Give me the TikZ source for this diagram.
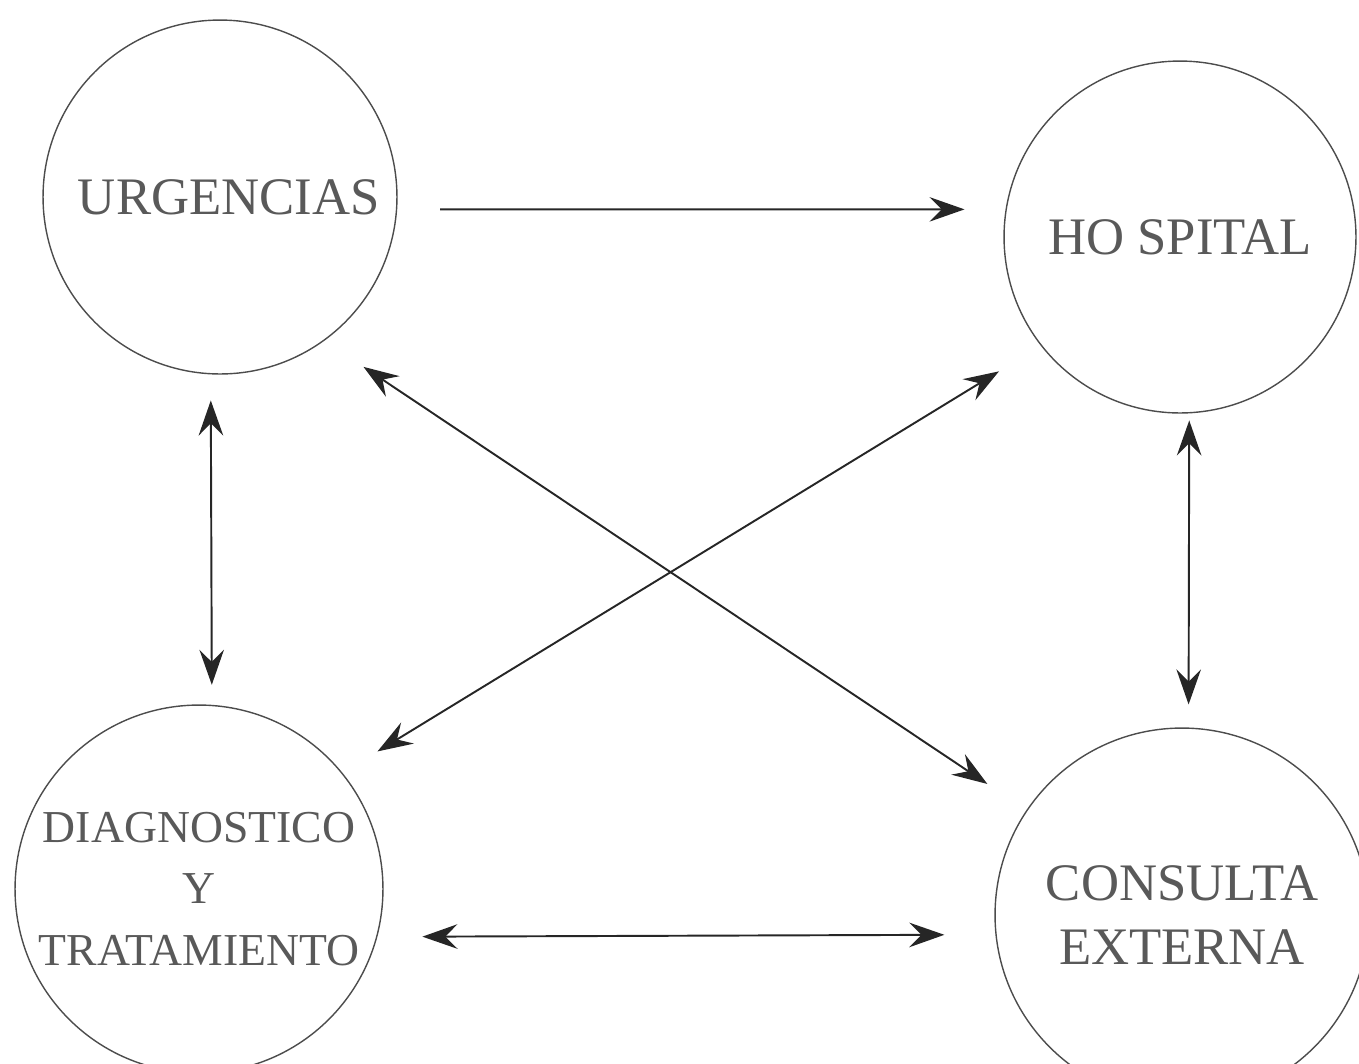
\documentclass[tikz,border=0pt]{standalone}
\usepackage{fontspec}
\setmainfont{Liberation Serif}
\usetikzlibrary{arrows.meta}

\tikzset{
  area/.style={circle, draw=black!70, line width=0.8pt, text=black!65, align=center, inner sep=0pt},
  link/.style={draw=black!85, line width=1.1pt, -{Stealth[length=20pt, width=14pt, inset=7pt]}},
  twolink/.style={draw=black!85, line width=1.1pt, {Stealth[length=20pt, width=14pt, inset=7pt]}-{Stealth[length=20pt, width=14pt, inset=7pt]}}
}

\begin{document}
\begin{tikzpicture}[x=0.02cm, y=-0.02cm]

% Page size
\useasboundingbox (0,0) rectangle (1359,1063);

% Define the four areas
\node[area, minimum size=7.08cm, font=\fontsize{30}{36}\selectfont] (urg) at (220,197) {\hspace{10pt}URGENCIAS};
\node[area, minimum size=7.04cm, font=\fontsize{30}{36}\selectfont] (hosp) at (1180,237) {HO SPITAL};
\node[area, minimum size=7.36cm, font=\fontsize{26}{35}\selectfont] (diag) at (199,889) {DIAGNOSTICO\\Y\\TRATAMIENTO};
\node[area, minimum size=7.48cm, font=\fontsize{30}{36}\selectfont] (cons) at (1182,915) {CONSULTA\\EXTERNA};

% Top arrow
\draw[link, shorten <=0.86cm, shorten >=0.82cm] (urg.-4) -- (hosp.171);

% Vertical arrows
\draw[twolink, shorten <=0.52cm, shorten >=0.40cm] (urg.-93.2) -- (diag.86.6);
\draw[twolink, shorten <=0.14cm, shorten >=0.46cm] (hosp.-87.7) -- (cons.88.5);

% Bottom arrow
\draw[twolink, shorten <=0.90cm, shorten >=1.02cm] (diag.-15.1) -- (cons.186.8);

% Crossing arrows
\draw[twolink, shorten <=0.82cm, shorten >=0.98cm] (diag.39.9) -- (hosp.218);
\draw[twolink, shorten <=0.94cm, shorten >=0.94cm] (cons.146.1) -- (urg.-54.4);

\end{tikzpicture}
\end{document}
